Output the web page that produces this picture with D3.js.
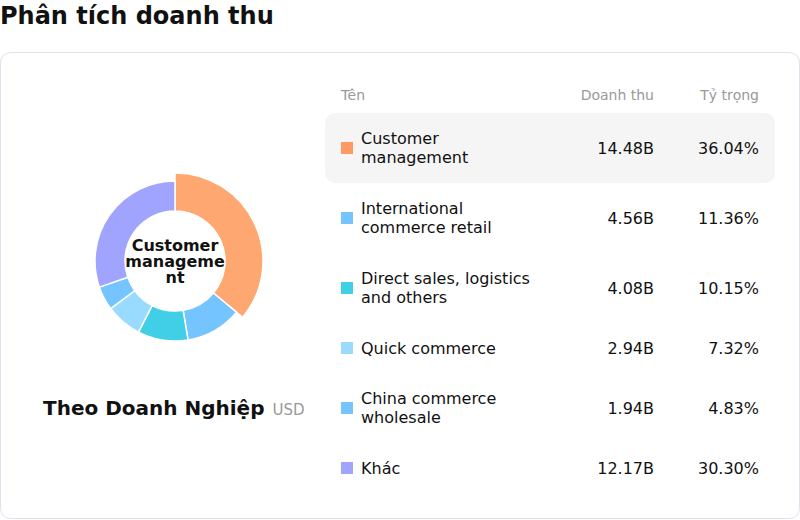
<!DOCTYPE html>
<html>
<head>
<meta charset="utf-8">
<script src="https://cdn.jsdelivr.net/npm/d3@7"></script>
<style>
  body { margin: 0; background: #fff; font-family: "DejaVu Sans", sans-serif; }
  svg { display: block; }
</style>
</head>
<body>
<svg id="chart" width="800" height="520"></svg>
<script>
// data
var names = ["Customer management", "International commerce retail", "Direct sales, logistics and others",
             "Quick commerce", "China commerce wholesale", "Khác"];
var revenue = [14.48, 4.56, 4.08, 2.94, 1.94, 12.17];
var shares = [36.04, 11.36, 10.15, 7.32, 4.83, 30.30];
var colors = ["#FF9966", "#74C4FF", "#40CFE6", "#99DBFF", "#74C4FF", "#A0A4FF"];
var activeIndex = 0;

var svg = d3.select("#chart");

svg.append("text")
    .attr("x", 0).attr("y", 24)
    .style("font-size", "24px").style("font-weight", "bold").style("fill", "#111")
    .text("Phân tích doanh thu");

svg.append("rect")
    .attr("x", 0.5).attr("y", 52.5)
    .attr("width", 799).attr("height", 466)
    .attr("rx", 10)
    .style("fill", "#fff").style("stroke", "#e2e0ec");

// wraps text into tspans; breaks inside a word if it is too long (like CSS word-break)
function wrap(sel, width, lineHeight, breakWords) {
  sel.each(function() {
    var text = d3.select(this),
        words = text.text().split(/\s+/),
        x = text.attr("x"),
        lines = [], line = "";
    text.text(null);
    var probe = text.append("tspan");
    function fits(s) { probe.text(s); return probe.node().getComputedTextLength() <= width; }
    words.forEach(function(w) {
      var cand = line ? line + " " + w : w;
      if (fits(cand)) { line = cand; return; }
      if (line) lines.push(line);
      line = w;
      if (breakWords && !fits(line)) {
        var part = "";
        for (var i = 0; i < w.length; i++) {
          if (fits(part + w[i])) part += w[i];
          else { lines.push(part); part = w[i]; }
        }
        line = part;
      }
    });
    lines.push(line);
    probe.remove();
    var y0 = -(lines.length - 1) / 2 * lineHeight;
    lines.forEach(function(l, i) {
      text.append("tspan").attr("x", x).attr("dy", i === 0 ? y0 + 5.5 : lineHeight).text(l);
    });
  });
}

// donut
var cx = 175, cy = 261, inner = 50, outer = 80;
var pie = d3.pie().sort(null).value(function(d) { return d; });
var arc = d3.arc().innerRadius(inner)
    .outerRadius(function(d) { return d.index === activeIndex ? outer + 8 : outer; });

var donut = svg.append("g").attr("transform", "translate(" + cx + "," + cy + ")");
donut.selectAll("path")
  .data(pie(revenue))
  .enter().append("path")
    .attr("d", arc)
    .style("fill", function(d) { return d.index === activeIndex ? "#FFA770" : colors[d.index]; })
    .style("stroke", "#fff")
    .style("stroke-width", 1.5);

donut.append("text")
    .attr("x", 0).attr("y", 0)
    .attr("text-anchor", "middle")
    .style("font-size", "16px").style("font-weight", "bold").style("fill", "#111")
    .text(names[activeIndex])
    .call(wrap, 105, 16, true);

var caption = svg.append("text").attr("x", 43).attr("y", 415);
caption.append("tspan")
    .style("font-size", "20px").style("font-weight", "bold").style("fill", "#111")
    .text("Theo Doanh Nghiệp");
caption.append("tspan")
    .attr("dx", 8)
    .style("font-size", "15px").style("fill", "#999")
    .text("USD");

// table
var colName = 341, colRev = 654, colShare = 759;
svg.append("g").selectAll("text")
  .data([["Tên", colName, "start"], ["Doanh thu", colRev, "end"], ["Tỷ trọng", colShare, "end"]])
  .enter().append("text")
    .attr("x", function(d) { return d[1]; })
    .attr("y", 100)
    .attr("text-anchor", function(d) { return d[2]; })
    .style("font-size", "14px").style("fill", "#999")
    .text(function(d) { return d[0]; });

var rowTop = 113, y = rowTop;
names.forEach(function(name, i) {
  var row = svg.append("g");
  var label = row.append("text")
      .attr("x", colName + 20).attr("y", 0)
      .style("font-size", "16px").style("fill", "#111")
      .text(name)
      .call(wrap, 180, 19, false);
  var nLines = label.selectAll("tspan").size();
  var h = nLines > 1 ? 70 : 50;
  var mid = y + h / 2;
  label.attr("transform", "translate(0," + mid + ")");
  if (i === activeIndex) {
    row.insert("rect", "text")
        .attr("x", 325).attr("y", y)
        .attr("width", 450).attr("height", h)
        .attr("rx", 10)
        .style("fill", "#f5f5f5");
  }
  row.append("rect")
      .attr("x", colName).attr("y", mid - 6)
      .attr("width", 12).attr("height", 12)
      .style("fill", colors[i]);
  row.append("text")
      .attr("x", colRev).attr("y", mid + 5.5)
      .attr("text-anchor", "end")
      .style("font-size", "16px").style("fill", "#111")
      .text(d3.format(".2f")(revenue[i]) + "B");
  row.append("text")
      .attr("x", colShare).attr("y", mid + 5.5)
      .attr("text-anchor", "end")
      .style("font-size", "16px").style("fill", "#111")
      .text(d3.format(".2f")(shares[i]) + "%");
  y += h;
});
</script>
</body>
</html>
